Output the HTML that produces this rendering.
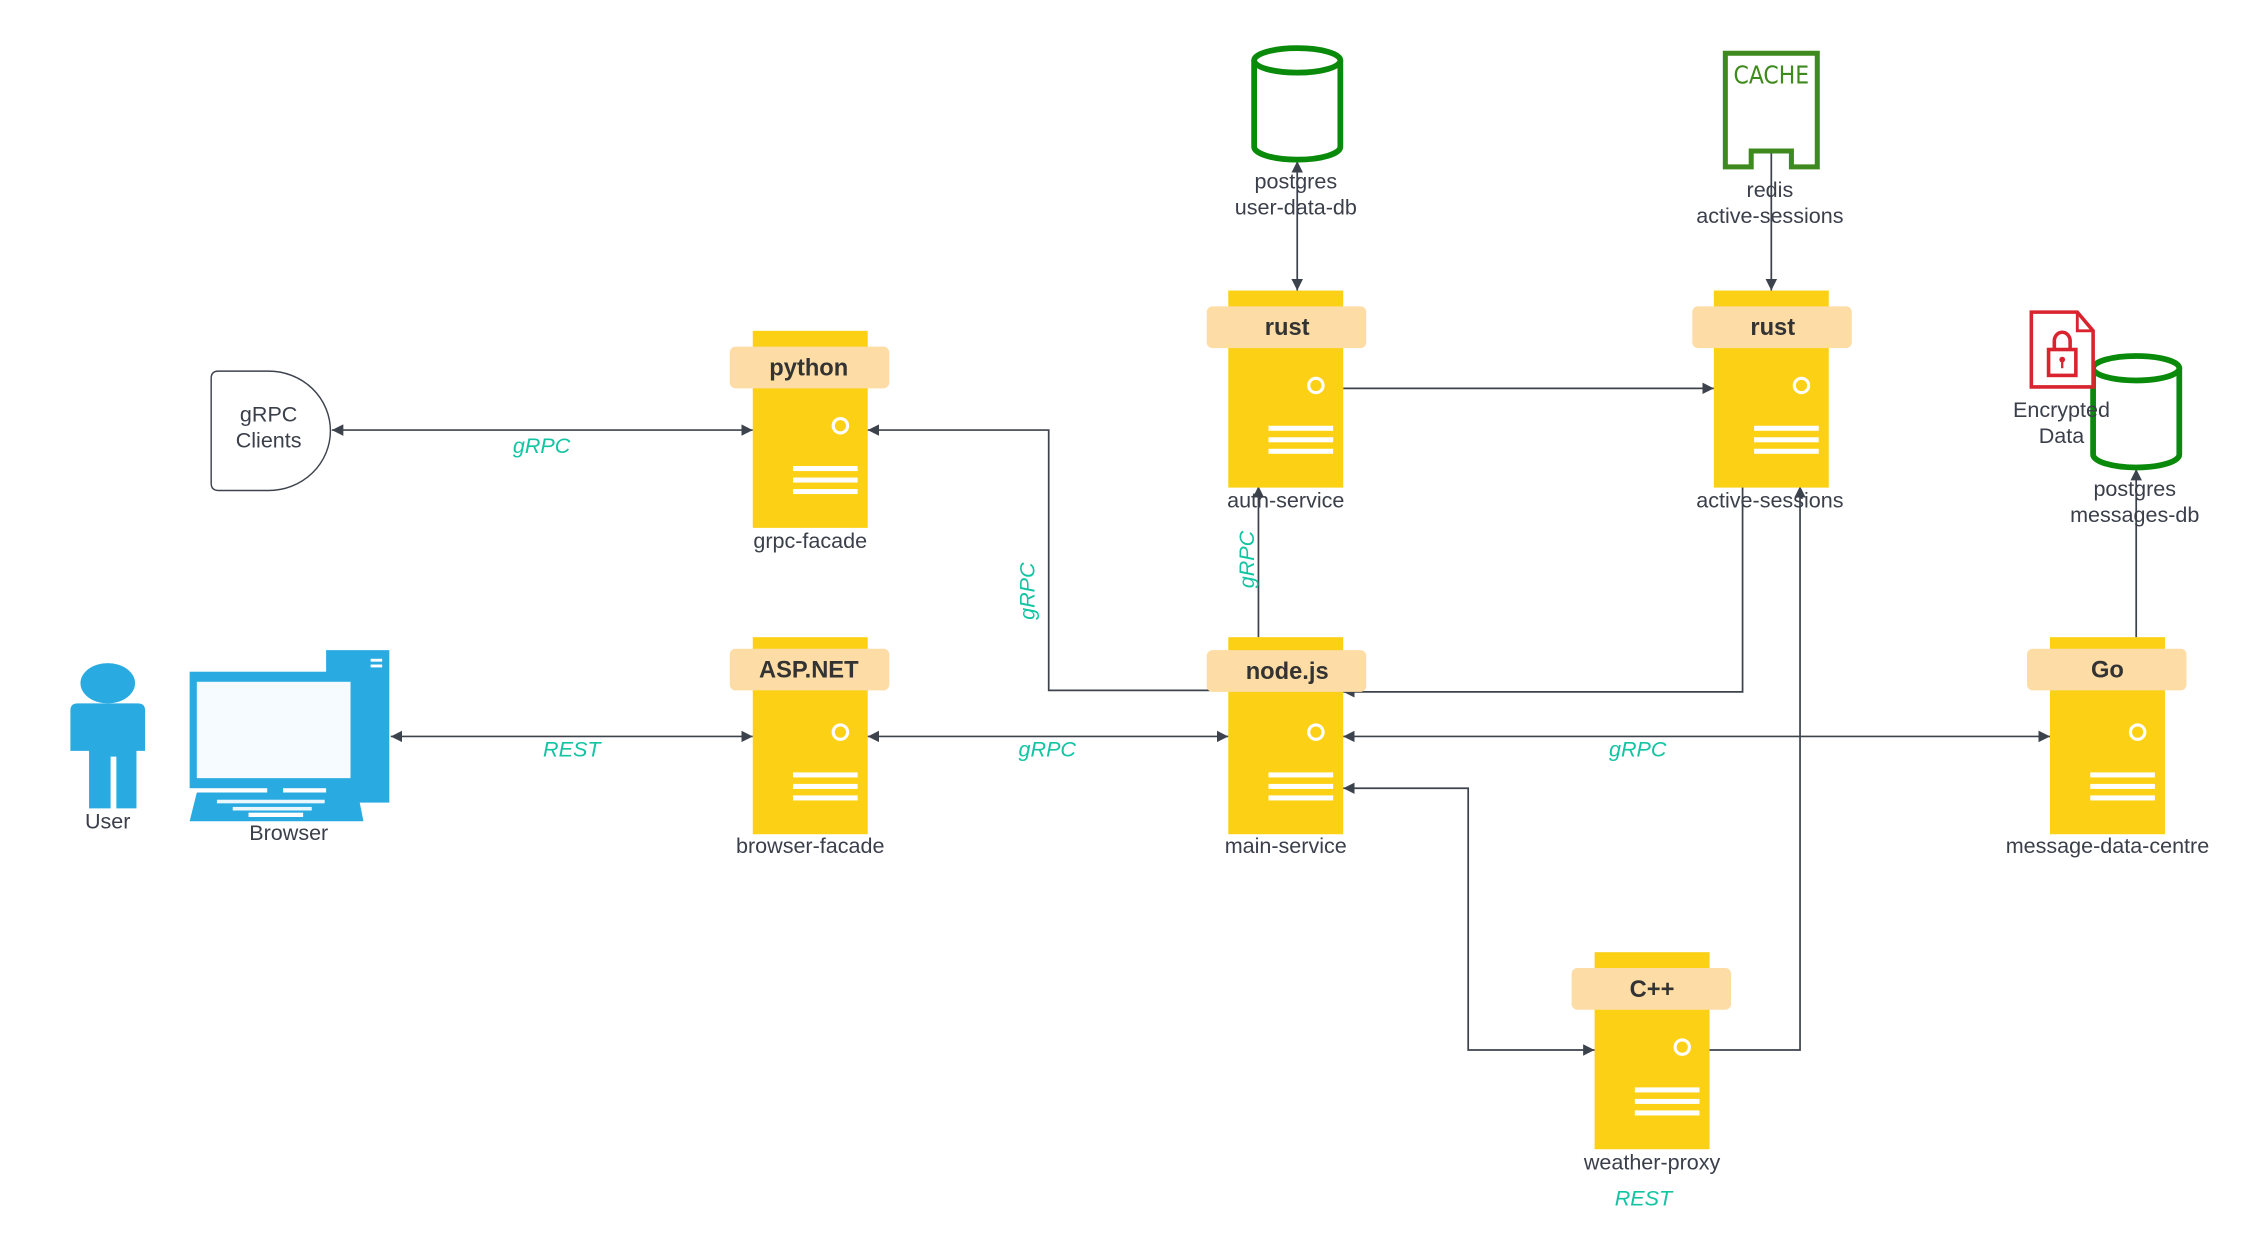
<!DOCTYPE html>
<html><head><meta charset="utf-8"><style>
html,body{margin:0;padding:0;background:#fff;}
svg{display:block;}
text{font-family:"Liberation Sans",Arial,sans-serif;fill:#3a3f4a;}
.lbl{font-size:15px;text-anchor:middle;}
.hd{font-size:16.5px;font-weight:bold;text-anchor:middle;fill:#333;}
.tl{font-size:15px;font-style:italic;fill:#13c4a3;text-anchor:middle;}
.e{stroke:#3d434d;stroke-width:1.2;fill:none;}
</style></head><body>
<svg width="2254" height="1260" viewBox="0 0 1569 876" preserveAspectRatio="none" xmlns="http://www.w3.org/2000/svg">
<defs>
<marker id="a" viewBox="0 0 10 10" refX="10" refY="5" markerWidth="8" markerHeight="8" orient="auto-start-reverse" markerUnits="userSpaceOnUse"><path d="M0,0 L10,5 L0,10 z" fill="#3d434d"/></marker>
<g id="srv">
<rect x="0" y="0" width="80" height="137" fill="#fcd015"/>
<circle cx="61" cy="66" r="5" fill="none" stroke="#fff" stroke-width="2.2"/>
<rect x="28" y="94" width="45" height="3.5" fill="#fff"/>
<rect x="28" y="102" width="45" height="3.5" fill="#fff"/>
<rect x="28" y="110" width="45" height="3.5" fill="#fff"/>
</g>
<g id="cyl">
<path d="M2,10 L2,70 A30,9 0 0 0 62,70 L62,10" fill="#fff" stroke="#0a8a0a" stroke-width="4"/>
<ellipse cx="32" cy="10" rx="30" ry="8.5" fill="#fff" stroke="#0a8a0a" stroke-width="4"/>
</g>
</defs>

<line class="e" x1="231" y1="299" x2="524" y2="299" marker-start="url(#a)" marker-end="url(#a)"/>
<line class="e" x1="935" y1="270" x2="1193" y2="270" marker-end="url(#a)"/>
<line class="e" x1="903" y1="112" x2="903" y2="202" marker-start="url(#a)" marker-end="url(#a)"/>
<line class="e" x1="1233" y1="104" x2="1233" y2="202" marker-end="url(#a)"/>
<line class="e" x1="1487" y1="443" x2="1487" y2="326" marker-end="url(#a)"/>
<line class="e" x1="272" y1="512" x2="524" y2="512" marker-start="url(#a)" marker-end="url(#a)"/>
<line class="e" x1="604" y1="512" x2="855" y2="512" marker-start="url(#a)" marker-end="url(#a)"/>
<line class="e" x1="935" y1="512" x2="1427" y2="512" marker-start="url(#a)" marker-end="url(#a)"/>
<path class="e" d="M855,480 L730,480 L730,299 L604,299" marker-end="url(#a)"/>
<line class="e" x1="876" y1="443" x2="876" y2="338" marker-end="url(#a)"/>
<path class="e" d="M1213,338 L1213,481 L935,481" marker-end="url(#a)"/>
<path class="e" d="M935,548 L1022,548 L1022,730 L1110,730" marker-start="url(#a)" marker-end="url(#a)"/>
<path class="e" d="M1190,730 L1253,730 L1253,338" marker-end="url(#a)"/>

<path d="M152,258 L187,258 A43,41.5 0 0 1 187,341 L152,341 Q147,341 147,336 L147,263 Q147,258 152,258 Z" fill="#fff" stroke="#3d434d" stroke-width="1"/>
<text class="lbl" x="187" y="293">gRPC</text>
<text class="lbl" x="187" y="311">Clients</text>

<use href="#srv" x="524" y="230"/>
<rect x="508" y="241" width="111" height="29" rx="4" fill="#fddca5"/>
<text class="hd" x="563" y="261">python</text>
<text class="lbl" x="564" y="381">grpc-facade</text>

<use href="#srv" x="855" y="202"/>
<rect x="840" y="213" width="111" height="29" rx="4" fill="#fddca5"/>
<text class="hd" x="896" y="233">rust</text>
<text class="lbl" x="895" y="353">auth-service</text>

<use href="#srv" x="1193" y="202"/>
<rect x="1178" y="213" width="111" height="29" rx="4" fill="#fddca5"/>
<text class="hd" x="1234" y="233">rust</text>
<text class="lbl" x="1232" y="353">active-sessions</text>

<use href="#srv" x="524" y="443"/>
<rect x="508" y="451" width="111" height="29" rx="4" fill="#fddca5"/>
<text class="hd" x="563" y="471">ASP.NET</text>
<text class="lbl" x="564" y="593">browser-facade</text>

<use href="#srv" x="855" y="443"/>
<rect x="840" y="452" width="111" height="29" rx="4" fill="#fddca5"/>
<text class="hd" x="896" y="472">node.js</text>
<text class="lbl" x="895" y="593">main-service</text>

<use href="#srv" x="1427" y="443"/>
<rect x="1411" y="451" width="111" height="29" rx="4" fill="#fddca5"/>
<text class="hd" x="1467" y="471">Go</text>
<text class="lbl" x="1467" y="593">message-data-centre</text>

<use href="#srv" x="1110" y="662"/>
<rect x="1094" y="673" width="111" height="29" rx="4" fill="#fddca5"/>
<text class="hd" x="1150" y="693">C++</text>
<text class="lbl" x="1150" y="813">weather-proxy</text>

<use href="#cyl" x="871" y="32"/>
<text class="lbl" x="902" y="131">postgres</text>
<text class="lbl" x="902" y="149">user-data-db</text>
<use href="#cyl" x="1455" y="246"/>
<text class="lbl" x="1486" y="345">postgres</text>
<text class="lbl" x="1486" y="363">messages-db</text>

<path d="M1201,37 L1265,37 L1265,116 L1247,116 L1247,105 L1219,105 L1219,116 L1201,116 Z" fill="#fff" stroke="#3f8a1f" stroke-width="3.5"/>
<text x="1233" y="58" text-anchor="middle" style="font-size:17px;fill:#3f8a1f;font-family:'DejaVu Sans Condensed','Liberation Sans Narrow',sans-serif">CACHE</text>
<text class="lbl" x="1232" y="137">redis</text>
<text class="lbl" x="1232" y="155">active-sessions</text>

<path d="M1414,217 L1446,217 L1457,230 L1457,269 L1414,269 Z" fill="#fff" stroke="#d9232f" stroke-width="2.5"/>
<path d="M1446,217 L1446,230 L1457,230" fill="none" stroke="#d9232f" stroke-width="2"/>
<rect x="1426" y="243" width="19" height="18" fill="none" stroke="#d9232f" stroke-width="2.5"/>
<path d="M1430,243 L1430,237 A5.5,6 0 0 1 1441,237 L1441,243" fill="none" stroke="#d9232f" stroke-width="2.5"/>
<circle cx="1435.5" cy="250" r="2" fill="#d9232f"/><rect x="1434.7" y="250" width="1.6" height="6" fill="#d9232f"/>
<text class="lbl" x="1435" y="290">Encrypted</text>
<text class="lbl" x="1435" y="308">Data</text>

<ellipse cx="75" cy="475" rx="19" ry="14" fill="#29abe2"/>
<path d="M54,489 L96,489 Q101,489 101,494 L101,522 L95,522 L95,562 L81,562 L81,526 L77,526 L77,562 L62,562 L62,522 L49,522 L49,494 Q49,489 54,489 Z" fill="#29abe2"/>
<text class="lbl" x="75" y="576">User</text>

<rect x="227" y="452" width="44" height="106" fill="#29abe2"/>
<rect x="258" y="458" width="8" height="2" fill="#fff"/><rect x="258" y="462" width="8" height="2" fill="#fff"/>
<rect x="132" y="467" width="118" height="81" fill="#29abe2"/>
<rect x="137" y="474" width="107" height="67" fill="#f5fbff"/>
<rect x="186" y="545" width="11" height="6" fill="#29abe2"/>
<path d="M137,551 L249,551 L253,571 L132,571 Z" fill="#29abe2"/>
<rect x="151" y="556" width="75" height="2.5" fill="#fff" opacity="0.9"/>
<rect x="162" y="561" width="55" height="2.5" fill="#fff" opacity="0.9"/>
<rect x="173" y="565" width="38" height="3" fill="#fff"/>
<text class="lbl" x="201" y="584">Browser</text>

<text class="tl" x="377" y="315">gRPC</text>
<text class="tl" x="398" y="526">REST</text>
<text class="tl" x="729" y="526">gRPC</text>
<text class="tl" x="1140" y="526">gRPC</text>
<text class="tl" x="1144" y="838">REST</text>
<text class="tl" transform="translate(720,411) rotate(-90)">gRPC</text>
<text class="tl" transform="translate(873,389) rotate(-90)">gRPC</text>
</svg>
</body></html>
